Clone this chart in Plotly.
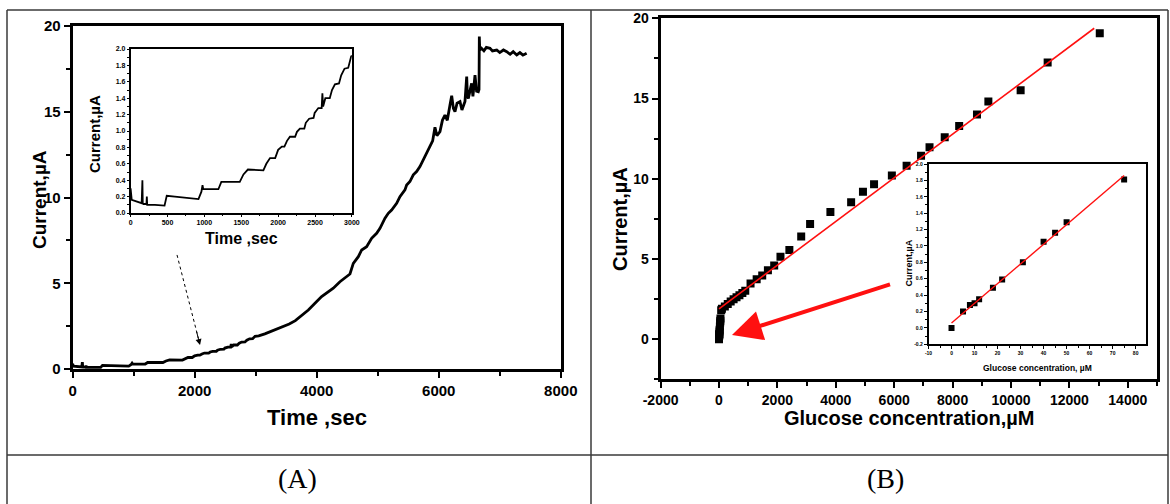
import plotly.graph_objects as go

# ---------------- data ----------------
# (A) amperometric response, current vs time
time_s = [0, 15, 150, 160, 165, 175, 215, 220, 225, 330, 460, 490, 600, 920, 960, 975, 985,
          1190, 1230, 1480, 1530, 1590, 1800, 1840, 1890, 1960, 2000, 2050, 2085, 2120, 2160,
          2230, 2255, 2295, 2355, 2375, 2420, 2480, 2495, 2545, 2590, 2600, 2610, 2640, 2700,
          2730, 2770, 2825, 2855, 2900, 2950, 2990,
          3050, 3150, 3250, 3350, 3450, 3550, 3650, 3726, 3863, 4000, 4081, 4272, 4381, 4545,
          4600, 4682, 4737, 4818, 4900, 4982, 5037, 5119, 5173, 5228, 5310, 5364, 5446, 5474,
          5528, 5583, 5637, 5692, 5747, 5801, 5856, 5900, 5938, 5970, 6020, 6060, 6102, 6140,
          6184, 6212, 6240, 6266, 6300, 6348, 6380, 6402, 6430, 6458, 6470, 6485, 6510, 6539,
          6560, 6594, 6620, 6648, 6660, 6665, 6672, 6700, 6740, 6780, 6840, 6880, 6950, 7000,
          7060, 7114, 7170, 7220, 7278, 7330, 7380, 7440]
current_uA = [0.30, 0.16, 0.12, 0.40, 0.12, 0.11, 0.11, 0.20, 0.10, 0.10, 0.09, 0.21, 0.20, 0.17,
              0.26, 0.34, 0.29, 0.29, 0.38, 0.38, 0.47, 0.53, 0.52, 0.60, 0.67, 0.67, 0.77, 0.81,
              0.81, 0.88, 0.93, 0.93, 0.99, 1.03, 1.03, 1.10, 1.15, 1.16, 1.22, 1.28, 1.28, 1.46,
              1.30, 1.40, 1.40, 1.50, 1.57, 1.58, 1.68, 1.76, 1.77, 1.91,
              1.93, 2.05, 2.20, 2.35, 2.47, 2.62, 2.82, 3.05, 3.44, 3.93, 4.22, 4.71, 5.09, 5.54,
              6.16, 6.55, 6.94, 7.13, 7.62, 7.91, 8.20, 8.79, 9.08, 9.27, 9.66, 10.05, 10.44, 10.73,
              10.93, 11.32, 11.51, 11.80, 12.19, 12.60, 12.96, 13.30, 14.10, 13.60, 13.84, 14.50,
              14.81, 14.50, 15.39, 15.94, 15.20, 15.00, 15.50, 15.59, 15.10, 15.30, 15.60, 17.05,
              15.90, 15.78, 16.30, 16.66, 15.90, 17.14, 16.20, 16.17, 16.30, 19.38, 18.60, 18.70,
              18.55, 18.75, 18.70, 18.55, 18.60, 18.45, 18.60, 18.50, 18.35, 18.50, 18.31, 18.45,
              18.30, 18.41]

# (B) calibration: current vs glucose concentration
conc_uM = [0, 5, 8, 10, 12, 18, 22, 31, 40, 45, 50, 75, 100, 200, 300, 400, 500, 600, 700, 800,
           900, 1080, 1290, 1480, 1675, 1890, 2105, 2410, 2815, 3120, 3815, 4525, 4930, 5310,
           5920, 6425, 6920, 7210, 7730, 8225, 8835, 9225, 10330, 11255, 13040]
resp_uA = [0.0, 0.20, 0.28, 0.30, 0.35, 0.49, 0.59, 0.80, 1.05, 1.16, 1.29, 1.81, 1.90, 2.05,
           2.20, 2.35, 2.50, 2.62, 2.75, 2.88, 3.02, 3.47, 3.74, 3.97, 4.30, 4.59, 5.15, 5.57,
           6.40, 7.19, 7.93, 8.54, 9.20, 9.66, 10.20, 10.82, 11.44, 11.96, 12.59, 13.29, 14.00,
           14.81, 15.51, 17.24, 19.07]
fit_main_x = [0, 12850]
fit_main_y = [1.90, 19.38]

# (B) inset: low concentration range
conc_low = [0, 5, 8, 10, 12, 18, 22, 31, 40, 45, 50, 75]
resp_low = [0.0, 0.20, 0.28, 0.30, 0.35, 0.49, 0.59, 0.80, 1.05, 1.16, 1.29, 1.81]
fit_low_x = [0, 75]
fit_low_y = [0.06, 1.86]

# tick labels
a_x_ticks = [0, 2000, 4000, 6000, 8000]
a_x_labels = ["0", "2000", "4000", "6000", "8000"]
a_y_ticks = [0, 5, 10, 15, 20]
a_y_labels = ["0", "5", "10", "15", "20"]
ai_x_ticks = [0, 500, 1000, 1500, 2000, 2500, 3000]
ai_x_labels = ["0", "500", "1000", "1500", "2000", "2500", "3000"]
ai_y_ticks = [0, 0.2, 0.4, 0.6, 0.8, 1.0, 1.2, 1.4, 1.6, 1.8, 2.0]
ai_y_labels = ["0.0", "0.2", "0.4", "0.6", "0.8", "1.0", "1.2", "1.4", "1.6", "1.8", "2.0"]
b_x_ticks = [-2000, 0, 2000, 4000, 6000, 8000, 10000, 12000, 14000]
b_x_labels = ["-2000", "0", "2000", "4000", "6000", "8000", "10000", "12000", "14000"]
b_y_ticks = [0, 5, 10, 15, 20]
b_y_labels = ["0", "5", "10", "15", "20"]
bi_x_ticks = [-10, 0, 10, 20, 30, 40, 50, 60, 70, 80]
bi_x_labels = ["-10", "0", "10", "20", "30", "40", "50", "60", "70", "80"]
bi_y_ticks = [-0.2, 0, 0.2, 0.4, 0.6, 0.8, 1.0, 1.2, 1.4, 1.6, 1.8, 2.0]
bi_y_labels = ["-0.2", "0.0", "0.2", "0.4", "0.6", "0.8", "1.0", "1.2", "1.4", "1.6", "1.8", "2.0"]

# ---------------- layout helpers ----------------
W, H = 1170, 504
FONT = "Liberation Sans, Arial, sans-serif"
SERIF = "Liberation Serif, Times New Roman, serif"


def fx(x):
    return x / W


def fy(y):
    return 1 - y / H


def axis(domain, rng, anchor, tv, tt, fsize, lw, tlen, tw, mtick0, mdtick, mlen):
    return dict(domain=domain, range=rng, anchor=anchor, showgrid=False, zeroline=False,
                automargin=False, showline=True, linecolor="black", linewidth=lw, mirror=True,
                ticks="outside", ticklen=tlen, tickwidth=tw, tickcolor="black",
                tickmode="array", tickvals=tv, ticktext=tt,
                tickfont=dict(family=FONT, size=fsize, color="black", weight="bold"),
                minor=dict(ticks="outside", ticklen=mlen, tickwidth=tw, tickcolor="black",
                           tickmode="linear", tick0=mtick0, dtick=mdtick, showgrid=False))


fig = go.Figure()
fig.add_trace(go.Scatter(x=time_s, y=current_uA, mode="lines",
                         line=dict(color="black", width=2.8), xaxis="x", yaxis="y"))
fig.add_trace(go.Scatter(x=time_s, y=current_uA, mode="lines",
                         line=dict(color="black", width=1.8), xaxis="x2", yaxis="y2"))
fig.add_trace(go.Scatter(x=conc_uM, y=resp_uA, mode="markers",
                         marker=dict(symbol="square", size=8, color="black"),
                         xaxis="x3", yaxis="y3"))
fig.add_trace(go.Scatter(x=fit_main_x, y=fit_main_y, mode="lines",
                         line=dict(color="#ff1010", width=1.6), xaxis="x3", yaxis="y3"))
fig.add_trace(go.Scatter(x=conc_low, y=resp_low, mode="markers",
                         marker=dict(symbol="square", size=6, color="black"),
                         xaxis="x4", yaxis="y4"))
fig.add_trace(go.Scatter(x=fit_low_x, y=fit_low_y, mode="lines",
                         line=dict(color="#ff1010", width=1.4), xaxis="x4", yaxis="y4"))

layout = dict(
    template="none",
    width=W, height=H, margin=dict(l=0, r=0, t=0, b=0, pad=0, autoexpand=False),
    paper_bgcolor="white", plot_bgcolor="white", showlegend=False,
    xaxis=axis([fx(72.6), fx(560.8)], [0, 8000], "y", a_x_ticks, a_x_labels, 15, 3, 6, 2, 0, 1000, 4),
    yaxis=axis([fy(369), fy(26)], [0, 20], "x", a_y_ticks, a_y_labels, 15, 3, 6, 2, 0, 2.5, 4),
    xaxis2=axis([fx(130.6), fx(351.9)], [0, 3000], "y2", ai_x_ticks, ai_x_labels, 7, 1.5, 2, 1, 0, 250, 1.5),
    yaxis2=axis([fy(213), fy(49)], [0, 2.0], "x2", ai_y_ticks, ai_y_labels, 7, 1.5, 2, 1, 0, 0.1, 1.5),
    xaxis3=axis([fx(660.6), fx(1157)], [-2000, 15000], "y3", b_x_ticks, b_x_labels, 14, 3, 6, 2, -2000, 1000, 4),
    yaxis3=axis([fy(379.4), fy(18.3)], [-2.5, 20], "x3", b_y_ticks, b_y_labels, 14, 3, 6, 2, -2.5, 2.5, 4),
    xaxis4=axis([fx(928.5), fx(1146)], [-10, 84.5], "y4", bi_x_ticks, bi_x_labels, 5, 1.5, 3, 1, -10, 5, 2),
    yaxis4=axis([fy(344.3), fy(164)], [-0.2, 2.0], "x4", bi_y_ticks, bi_y_labels, 5, 1.5, 3, 1, -0.2, 0.1, 2),
)

# table frame
frame = "#3a3a3a"
shapes = []
for (x0, y0, x1, y1) in [(7, 10, 1168, 10), (7, 10, 7, 504), (1168, 10, 1168, 504),
                         (591, 10, 591, 504), (7, 455, 1168, 455)]:
    shapes.append(dict(type="line", xref="paper", yref="paper", x0=fx(x0), y0=fy(y0),
                       x1=fx(x1), y1=fy(y1), line=dict(color=frame, width=1.5)))
# dashed pointer in panel A
shapes.append(dict(type="line", xref="x", yref="y", x0=1711, y0=6.65, x1=2060, y1=1.8,
                   line=dict(color="black", width=1, dash="dot")))
layout["shapes"] = shapes


def title(text, x, y, size, angle=0, weight="bold", family=FONT):
    return dict(text=text, x=fx(x), y=fy(y), xref="paper", yref="paper", showarrow=False,
                xanchor="center", yanchor="middle", textangle=angle,
                font=dict(family=family, size=size, color="black", weight=weight))


ann = [
    title("Time ,sec", 317, 417, 22),
    title("Current,\u00b5A", 40, 200, 19, -90),
    title("Time ,sec", 241, 238, 16),
    title("Current,\u00b5A", 95, 134, 15, -90),
    title("Glucose concentration,\u00b5M", 909, 418, 20),
    title("Current,\u00b5A", 620, 219, 20, -90),
    title("Glucose concentration, \u00b5M", 1037, 368, 8.5),
    title("Current,\u00b5A", 908.5, 263, 9, -90),
    title("(A)", 297, 478, 28, weight="normal", family=SERIF),
    title("(B)", 885, 478, 28, weight="normal", family=SERIF),
    dict(x=2088, y=1.40, xref="x", yref="y", ax=2025, ay=2.27, axref="x", ayref="y",
         showarrow=True, arrowhead=2, arrowsize=1.2, arrowwidth=1, arrowcolor="black", text=""),
    dict(x=445, y=0.27, xref="x3", yref="y3", ax=5908, ay=3.45, axref="x3", ayref="y3",
         showarrow=True, arrowhead=2, arrowsize=1.5, arrowwidth=4, arrowcolor="#ff1010", text=""),
]
layout["annotations"] = ann

fig.update_layout(**layout)
fig.write_html("out.html")
